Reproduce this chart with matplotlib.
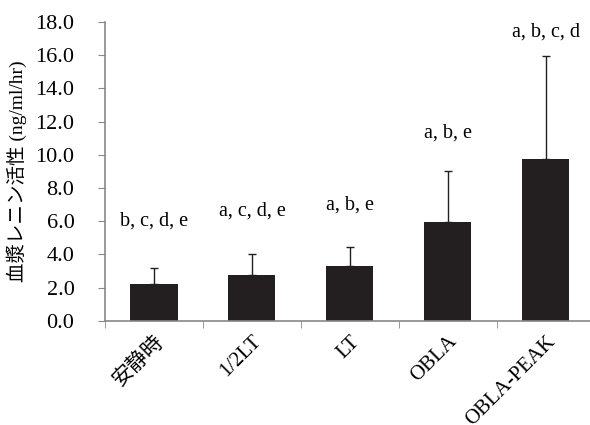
import matplotlib.pyplot as plt
from matplotlib.ticker import FixedLocator

plt.rcParams['font.family'] = ['Liberation Serif', 'Noto Sans CJK JP']

categories = ["安静時", "1/2LT", "LT", "OBLA", "OBLA-PEAK"]
means = [2.2, 2.75, 3.3, 5.95, 9.75]
sd = [1.0, 1.25, 1.15, 3.05, 6.2]
letters = ["b, c, d, e", "a, c, d, e", "a, b, e", "a, b, e", "a, b, c, d"]
label_y = [6.0, 6.6, 7.0, 11.3, 17.4]

fig = plt.figure(figsize=(5.9, 4.25), dpi=100)
ax = fig.add_axes([0.178, 0.245, 0.822, 0.703])

x = range(len(categories))
ax.bar(x, means, width=0.48, color="#231f20", zorder=2)
ax.errorbar(x, means, yerr=[[0] * len(sd), sd], fmt="none", ecolor="#231f20",
            elinewidth=1, capsize=3, capthick=1, zorder=3)

for i, t in enumerate(letters):
    ax.text(i, label_y[i], t, ha="center", va="center", fontsize=14.5)

ax.set_xlim(-0.5, 4.45)
ax.set_ylim(0, 18)
ax.set_yticks([0, 2, 4, 6, 8, 10, 12, 14, 16, 18])
ax.set_yticklabels([f"{v:.1f}" for v in range(0, 20, 2)], fontsize=16)
ax.set_xticks(list(x))
ax.set_xticklabels(categories, rotation=45, ha="right", rotation_mode="anchor", fontsize=15)
ax.tick_params(axis="x", which="major", length=0, pad=8)
ax.xaxis.set_minor_locator(FixedLocator([-0.5, 0.5, 1.5, 2.5, 3.5]))
ax.tick_params(axis="x", which="minor", length=5, color="#888888", direction="out")
ax.tick_params(axis="y", length=5, color="#888888", direction="out", pad=17)

for s in ["top", "right"]:
    ax.spines[s].set_visible(False)
for s in ["left", "bottom"]:
    ax.spines[s].set_color("#888888")
    ax.spines[s].set_linewidth(1.2)

ax.set_ylabel("血漿レニン活性 (ng/ml/hr)", fontsize=14, labelpad=6)

fig.savefig("out.png", dpi=100)
